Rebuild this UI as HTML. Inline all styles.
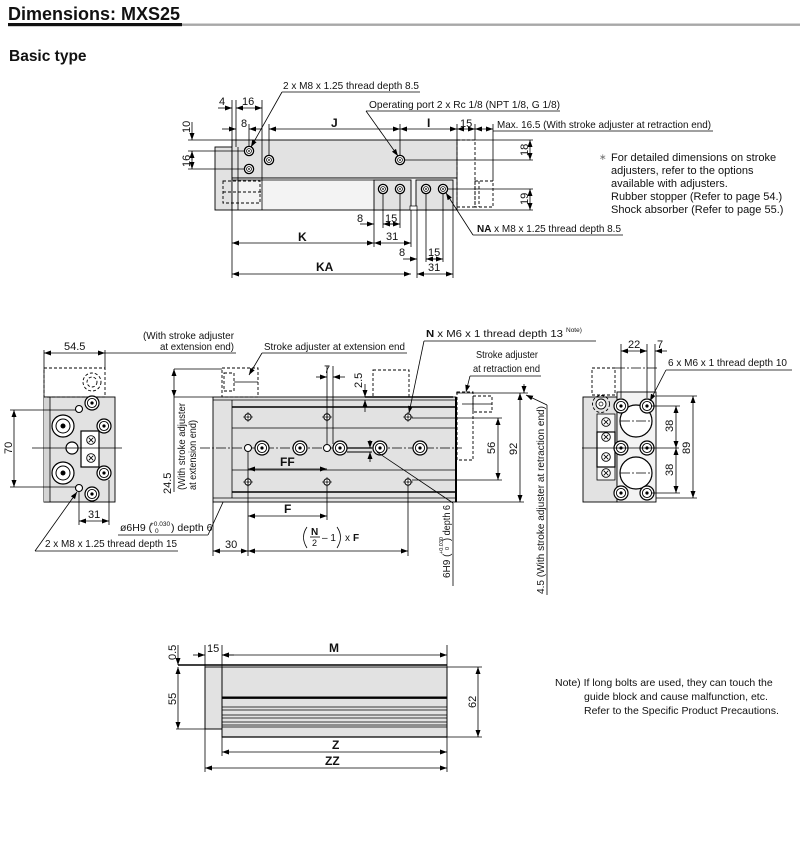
<!DOCTYPE html>
<html><head><meta charset="utf-8"><style>
html,body{margin:0;padding:0;background:#fff;}
svg{display:block;font-family:"Liberation Sans",Arial,sans-serif;}
.t{font-size:10.5px;fill:#111;}
.d{font-size:11px;fill:#111;}
.b{font-weight:bold;}
.ln{stroke:#000;stroke-width:0.8;fill:none;}
.th{stroke:#000;stroke-width:1.2;fill:none;}
.ds{stroke:#000;stroke-width:0.9;fill:none;stroke-dasharray:3,2;}
.cl{stroke:#000;stroke-width:0.7;fill:none;stroke-dasharray:10,2,2,2;}
.g{fill:#e2e2e2;stroke:#000;stroke-width:0.9;}
.g2{fill:#f3f3f3;stroke:#000;stroke-width:0.9;}
</style></head><body>
<svg width="800" height="860" viewBox="0 0 800 860" xmlns="http://www.w3.org/2000/svg">
<defs>
<marker id="a" markerWidth="7" markerHeight="5" refX="7" refY="2.5" orient="auto-start-reverse" markerUnits="userSpaceOnUse"><path d="M0,0 L7,2.5 L0,5 z" fill="#000"/></marker>
<g id="ring"><circle r="4.6" fill="#fff" stroke="#000" stroke-width="1.3"/><circle r="2.4" fill="none" stroke="#000" stroke-width="0.8"/><circle r="0.9" fill="#000"/></g>
<g id="bolt"><circle r="3.2" fill="#fff" stroke="#000" stroke-width="1"/><line x1="-5" y1="0" x2="5" y2="0" stroke="#000" stroke-width="0.6"/><line x1="0" y1="-5" x2="0" y2="5" stroke="#000" stroke-width="0.6"/><circle r="0.8" fill="#000"/></g>
<g id="big"><circle r="7" fill="#fff" stroke="#000" stroke-width="1.2"/><circle r="4.6" fill="none" stroke="#000" stroke-width="0.9"/><circle r="1.6" fill="#000"/></g>
<g id="xc"><circle r="4.3" fill="#fff" stroke="#000" stroke-width="0.9"/><path d="M-2.3,-2.3 L2.3,2.3 M-2.3,2.3 L2.3,-2.3" stroke="#000" stroke-width="0.8"/></g>
</defs>

<!-- Title -->
<text x="8" y="20" style="font-size:18px;font-weight:bold;fill:#111">Dimensions: MXS25</text>
<rect x="8" y="23" width="174" height="3.2" fill="#111"/>
<rect x="182" y="23.5" width="618" height="2.4" fill="#a8a8a8"/>
<text x="9" y="61" style="font-size:15.5px;font-weight:bold;fill:#111">Basic type</text>

<!-- ================= TOP VIEW ================= -->
<rect x="215" y="147" width="17" height="63" class="g"/>
<rect x="232" y="140" width="225" height="38" class="g"/>
<rect x="232" y="178" width="225" height="32" class="g2"/>
<rect x="374" y="180" width="37" height="30" class="g"/>
<rect x="416" y="180" width="37" height="30" class="g"/>
<rect x="410" y="206" width="7" height="4" fill="#fff" stroke="#000" stroke-width="0.7"/>
<line x1="232" y1="180" x2="374" y2="180" class="ln"/>
<line x1="238" y1="147" x2="238" y2="210" class="ln"/>
<line x1="262" y1="140" x2="262" y2="210" class="ln"/>
<rect x="223" y="181" width="37" height="22" class="ds"/>
<line x1="223" y1="192" x2="262" y2="192" class="ds"/>
<rect x="457" y="140" width="18" height="67" class="ds"/>
<rect x="475" y="181" width="18" height="26" class="ds"/>
<line x1="479" y1="181" x2="479" y2="207" class="ds"/>
<use href="#ring" x="249" y="151"/>
<use href="#ring" x="249" y="169"/>
<use href="#ring" x="269" y="160"/>
<use href="#ring" x="400" y="160"/>
<use href="#ring" x="383" y="189"/>
<use href="#ring" x="400" y="189"/>
<use href="#ring" x="426" y="189"/>
<use href="#ring" x="443" y="189"/>
<line x1="405" y1="160" x2="533" y2="160" class="ln"/>
<line x1="448" y1="189" x2="533" y2="189" class="ln"/>
<line x1="457" y1="140" x2="533" y2="140" class="ln"/>
<line x1="457" y1="210" x2="533" y2="210" class="ln"/>
<line x1="188" y1="140" x2="232" y2="140" class="ln"/>
<line x1="188" y1="151" x2="244" y2="151" class="ln"/>
<line x1="188" y1="169" x2="244" y2="169" class="ln"/>
<line x1="192" y1="122" x2="192" y2="140" class="ln" marker-end="url(#a)"/>
<line x1="192" y1="160" x2="192" y2="151" class="ln" marker-end="url(#a)"/>
<line x1="192" y1="151" x2="192" y2="169" class="ln" marker-end="url(#a)"/>
<text class="d" transform="translate(190,133) rotate(-90)">10</text>
<text class="d" transform="translate(190,167) rotate(-90)">16</text>
<line x1="530" y1="140" x2="530" y2="160" class="ln" marker-start="url(#a)" marker-end="url(#a)"/>
<line x1="530" y1="189" x2="530" y2="210" class="ln" marker-start="url(#a)" marker-end="url(#a)"/>
<text class="d" transform="translate(528,156) rotate(-90)">18</text>
<text class="d" transform="translate(528,205) rotate(-90)">19</text>
<line x1="232" y1="100" x2="232" y2="147" class="ln"/>
<line x1="236" y1="100" x2="236" y2="147" class="ln"/>
<line x1="262" y1="100" x2="262" y2="140" class="ln"/>
<line x1="249" y1="124" x2="249" y2="146" class="ln"/>
<line x1="269" y1="124" x2="269" y2="155" class="ln"/>
<line x1="400" y1="124" x2="400" y2="155" class="ln"/>
<line x1="457" y1="124" x2="457" y2="140" class="ln"/>
<line x1="475" y1="124" x2="475" y2="140" class="ln"/>
<line x1="493" y1="124" x2="493" y2="181" class="ln"/>
<line x1="218" y1="108" x2="232" y2="108" class="ln" marker-end="url(#a)"/>
<line x1="236" y1="108" x2="262" y2="108" class="ln" marker-start="url(#a)" marker-end="url(#a)"/>
<text class="d" x="219" y="105">4</text>
<text class="d" x="242" y="105">16</text>
<line x1="222" y1="129" x2="236" y2="129" class="ln" marker-end="url(#a)"/>
<line x1="262" y1="129" x2="249" y2="129" class="ln" marker-end="url(#a)"/>
<text class="d" x="241" y="127">8</text>
<line x1="269" y1="129" x2="400" y2="129" class="ln" marker-start="url(#a)" marker-end="url(#a)"/>
<text class="d b" x="331" y="127" style="font-size:12px">J</text>
<line x1="400" y1="129" x2="457" y2="129" class="ln" marker-start="url(#a)" marker-end="url(#a)"/>
<text class="d b" x="427" y="127" style="font-size:12px">I</text>
<line x1="457" y1="129" x2="475" y2="129" class="ln" marker-start="url(#a)" marker-end="url(#a)"/>
<text class="d" x="460" y="127">15</text>
<line x1="475" y1="129" x2="493" y2="129" class="ln" marker-start="url(#a)" marker-end="url(#a)"/>
<line x1="493" y1="131" x2="713" y2="131" class="ln"/>
<text class="t" x="497" y="128" textLength="214" lengthAdjust="spacingAndGlyphs">Max. 16.5 (With stroke adjuster at retraction end)</text>
<text class="t" x="283" y="89" textLength="136" lengthAdjust="spacingAndGlyphs">2 x M8 x 1.25 thread depth 8.5</text>
<line x1="282" y1="92" x2="420" y2="92" class="ln"/>
<line x1="282" y1="92" x2="251" y2="147" class="ln" marker-end="url(#a)"/>
<text class="t" x="369" y="108" textLength="191" lengthAdjust="spacingAndGlyphs">Operating port 2 x Rc 1/8 (NPT 1/8, G 1/8)</text>
<line x1="366" y1="111" x2="560" y2="111" class="ln"/>
<line x1="366" y1="111" x2="398" y2="156" class="ln" marker-end="url(#a)"/>
<text class="t" x="477" y="232" textLength="144" lengthAdjust="spacingAndGlyphs"><tspan font-weight="bold">NA</tspan> x M8 x 1.25 thread depth 8.5</text>
<line x1="473" y1="235" x2="623" y2="235" class="ln"/>
<line x1="473" y1="235" x2="446" y2="193" class="ln" marker-end="url(#a)"/>
<line x1="232" y1="210" x2="232" y2="278" class="ln"/>
<line x1="374" y1="210" x2="374" y2="247" class="ln"/>
<line x1="383" y1="194" x2="383" y2="228" class="ln"/>
<line x1="400" y1="194" x2="400" y2="228" class="ln"/>
<line x1="411" y1="210" x2="411" y2="247" class="ln"/>
<line x1="417" y1="210" x2="417" y2="278" class="ln"/>
<line x1="426" y1="194" x2="426" y2="262" class="ln"/>
<line x1="443" y1="194" x2="443" y2="262" class="ln"/>
<line x1="453" y1="210" x2="453" y2="278" class="ln"/>
<line x1="360" y1="224" x2="374" y2="224" class="ln" marker-end="url(#a)"/>
<line x1="395" y1="224" x2="383" y2="224" class="ln" marker-end="url(#a)"/>
<line x1="383" y1="224" x2="400" y2="224" class="ln" marker-end="url(#a)"/>
<text class="d" x="357" y="222">8</text>
<text class="d" x="385" y="222">15</text>
<line x1="232" y1="243" x2="374" y2="243" class="ln" marker-start="url(#a)" marker-end="url(#a)"/>
<line x1="374" y1="243" x2="411" y2="243" class="ln" marker-start="url(#a)" marker-end="url(#a)"/>
<text class="d b" x="298" y="241" style="font-size:12px">K</text>
<text class="d" x="386" y="240">31</text>
<line x1="403" y1="259" x2="417" y2="259" class="ln" marker-end="url(#a)"/>
<line x1="438" y1="259" x2="426" y2="259" class="ln" marker-end="url(#a)"/>
<line x1="426" y1="259" x2="443" y2="259" class="ln" marker-end="url(#a)"/>
<text class="d" x="399" y="256">8</text>
<text class="d" x="428" y="256">15</text>
<line x1="232" y1="274" x2="411" y2="274" class="ln" marker-start="url(#a)" marker-end="url(#a)"/>
<line x1="417" y1="274" x2="453" y2="274" class="ln" marker-start="url(#a)" marker-end="url(#a)"/>
<text class="d b" x="316" y="271" style="font-size:12px">KA</text>
<text class="d" x="428" y="271">31</text>
<text x="599" y="160" style="font-size:9px;fill:#777">∗</text>
<text class="t" x="611" y="161" style="font-size:11px">For detailed dimensions on stroke</text>
<text class="t" x="611" y="174" style="font-size:11px">adjusters, refer to the options</text>
<text class="t" x="611" y="187" style="font-size:11px">available with adjusters.</text>
<text class="t" x="611" y="200" style="font-size:11px">Rubber stopper (Refer to page 54.)</text>
<text class="t" x="611" y="213" style="font-size:11px">Shock absorber (Refer to page 55.)</text>

<!-- ================= LEFT END VIEW ================= -->
<rect x="44" y="397" width="71" height="105" class="g"/>
<path d="M44,397 L50,397 L50,502 L44,502" fill="#d4d4d4" stroke="#000" stroke-width="0.8"/>
<rect x="44" y="368" width="61" height="29" class="ds"/>
<circle cx="92" cy="382" r="9" class="ds"/>
<circle cx="92" cy="382" r="5" class="ds"/>
<line x1="44" y1="350" x2="44" y2="397" class="ln"/>
<line x1="105" y1="350" x2="105" y2="368" class="ln"/>
<line x1="44" y1="353" x2="105" y2="353" class="ln" marker-start="url(#a)" marker-end="url(#a)"/>
<line x1="105" y1="353" x2="236" y2="353" class="ln"/>
<text class="d" x="64" y="350">54.5</text>
<text class="t" x="143" y="339" textLength="91" lengthAdjust="spacingAndGlyphs">(With stroke adjuster</text>
<text class="t" x="160" y="350" textLength="74" lengthAdjust="spacingAndGlyphs">at extension end)</text>
<circle cx="63" cy="426" r="11" fill="#fff" stroke="#000" stroke-width="1.2"/>
<circle cx="63" cy="426" r="7" fill="none" stroke="#000" stroke-width="1"/>
<circle cx="63" cy="426" r="2.5" fill="#000"/>
<circle cx="63" cy="473" r="11" fill="#fff" stroke="#000" stroke-width="1.2"/>
<circle cx="63" cy="473" r="7" fill="none" stroke="#000" stroke-width="1"/>
<circle cx="63" cy="473" r="2.5" fill="#000"/>
<circle cx="72" cy="448" r="6" fill="#fff" stroke="#000" stroke-width="1.2"/>
<circle cx="79" cy="409" r="3.5" fill="#fff" stroke="#000" stroke-width="1.1"/>
<circle cx="79" cy="488" r="3.5" fill="#fff" stroke="#000" stroke-width="1.1"/>
<use href="#big" x="92" y="403"/>
<use href="#big" x="104" y="426"/>
<use href="#big" x="104" y="473"/>
<use href="#big" x="92" y="494"/>
<rect x="81" y="431" width="18" height="36" fill="#fff" stroke="#000" stroke-width="1.2"/>
<use href="#xc" x="91" y="440"/>
<use href="#xc" x="91" y="458"/>
<line x1="32" y1="448" x2="122" y2="448" class="ln"/>
<line x1="10" y1="410" x2="76" y2="410" class="ln"/>
<line x1="10" y1="487" x2="76" y2="487" class="ln"/>
<line x1="14" y1="410" x2="14" y2="487" class="ln" marker-start="url(#a)" marker-end="url(#a)"/>
<text class="d" transform="translate(12,454) rotate(-90)">70</text>
<line x1="79" y1="492" x2="79" y2="525" class="ln"/>
<line x1="109" y1="480" x2="109" y2="525" class="ln"/>
<line x1="79" y1="521" x2="109" y2="521" class="ln" marker-start="url(#a)" marker-end="url(#a)"/>
<text class="d" x="88" y="518">31</text>
<text class="t" x="120" y="531">ø6H9 (</text>
<text x="150" y="526" style="font-size:6.5px;fill:#111">+0.030</text>
<text x="155" y="533" style="font-size:6.5px;fill:#111">0</text>
<text class="t" x="171" y="531">) depth 6</text>
<line x1="118" y1="535" x2="208" y2="535" class="ln"/>
<line x1="208" y1="535" x2="246" y2="452" class="ln" marker-end="url(#a)"/>
<text class="t" x="45" y="547" textLength="132" lengthAdjust="spacingAndGlyphs">2 x M8 x 1.25 thread depth 15</text>
<line x1="35" y1="551" x2="178" y2="551" class="ln"/>
<line x1="35" y1="551" x2="77" y2="492" class="ln" marker-end="url(#a)"/>

<!-- ================= SIDE VIEW ================= -->
<rect x="213" y="397" width="243" height="105" class="g"/>
<line x1="232" y1="400" x2="232" y2="498" class="ln"/>
<line x1="213" y1="400" x2="456" y2="400" class="ln"/>
<line x1="232" y1="407" x2="456" y2="407" class="th" style="stroke-width:1.6"/>
<line x1="232" y1="428" x2="456" y2="428" class="ln"/>
<line x1="232" y1="470" x2="456" y2="470" class="ln"/>
<line x1="232" y1="492" x2="456" y2="492" class="th" style="stroke-width:1.6"/>
<line x1="213" y1="498" x2="456" y2="498" class="ln"/>
<line x1="456" y1="397" x2="456" y2="502" stroke="#000" stroke-width="2"/>
<line x1="365" y1="397" x2="453" y2="397" stroke="#000" stroke-width="1.6"/>
<rect x="222" y="368" width="36" height="29" class="ds"/>
<rect x="224" y="373" width="10" height="18" class="ds"/>
<line x1="234" y1="382" x2="258" y2="382" class="ln"/>
<rect x="373" y="370" width="36" height="27" class="ds"/>
<rect x="457" y="392" width="16" height="68" class="ds"/>
<rect x="473" y="396" width="19" height="16" class="ds"/>
<line x1="462" y1="404" x2="492" y2="404" class="ln"/>
<line x1="200" y1="448" x2="462" y2="448" class="cl"/>
<use href="#bolt" x="248" y="417"/>
<use href="#bolt" x="327" y="417"/>
<use href="#bolt" x="408" y="417"/>
<use href="#bolt" x="248" y="482"/>
<use href="#bolt" x="327" y="482"/>
<use href="#bolt" x="408" y="482"/>
<circle cx="248" cy="448" r="3.5" fill="#fff" stroke="#000" stroke-width="1"/>
<circle cx="327" cy="448" r="3.5" fill="#fff" stroke="#000" stroke-width="1"/>
<use href="#big" x="262" y="448"/>
<use href="#big" x="300" y="448"/>
<use href="#big" x="340" y="448"/>
<use href="#big" x="380" y="448"/>
<use href="#big" x="420" y="448"/>
<line x1="347" y1="448" x2="372" y2="448" stroke="#000" stroke-width="1.2"/>
<line x1="347" y1="452" x2="372" y2="452" stroke="#000" stroke-width="1"/>
<line x1="327" y1="366" x2="327" y2="444" class="ln"/>
<line x1="333" y1="366" x2="333" y2="444" class="ln"/>
<line x1="316" y1="377" x2="327" y2="377" class="ln" marker-end="url(#a)"/>
<line x1="345" y1="377" x2="333" y2="377" class="ln" marker-end="url(#a)"/>
<text class="d" x="324" y="373">7</text>
<line x1="365" y1="384" x2="365" y2="397" class="ln" marker-end="url(#a)"/>
<line x1="365" y1="412" x2="365" y2="400" class="ln" marker-end="url(#a)"/>
<text class="d" transform="translate(362,388) rotate(-90)">2.5</text>
<line x1="370" y1="440" x2="370" y2="448" class="ln" marker-end="url(#a)"/>
<line x1="370" y1="462" x2="370" y2="452" class="ln" marker-end="url(#a)"/>
<line x1="248" y1="452" x2="248" y2="556" class="ln"/>
<line x1="213" y1="502" x2="213" y2="556" class="ln"/>
<line x1="327" y1="486" x2="327" y2="520" class="ln"/>
<line x1="408" y1="486" x2="408" y2="556" class="ln"/>
<line x1="248" y1="469" x2="327" y2="469" class="ln" marker-start="url(#a)" marker-end="url(#a)"/>
<text class="d b" x="280" y="466" style="font-size:12px">FF</text>
<line x1="248" y1="516" x2="327" y2="516" class="ln" marker-start="url(#a)" marker-end="url(#a)"/>
<text class="d b" x="284" y="513" style="font-size:12px">F</text>
<line x1="213" y1="551" x2="248" y2="551" class="ln" marker-start="url(#a)" marker-end="url(#a)"/>
<text class="d" x="225" y="548">30</text>
<line x1="248" y1="551" x2="408" y2="551" class="ln" marker-start="url(#a)" marker-end="url(#a)"/>
<path d="M307,527 Q300,537 307,548" class="ln" stroke-width="1.2"/>
<text x="311" y="535" style="font-size:10px;font-weight:bold;fill:#111">N</text>
<line x1="310" y1="537" x2="320" y2="537" stroke="#000" stroke-width="0.8"/>
<text x="312" y="546" style="font-size:9px;fill:#111">2</text>
<text x="322" y="541" style="font-size:10px;fill:#111">– 1</text>
<path d="M337,527 Q344,537 337,548" class="ln" stroke-width="1.2"/>
<text x="345" y="541" style="font-size:10px;fill:#111">x </text>
<text x="353" y="541" style="font-size:10px;font-weight:bold;fill:#111">F</text>
<line x1="412" y1="418" x2="502" y2="418" class="ln"/>
<line x1="412" y1="480" x2="502" y2="480" class="ln"/>
<line x1="498" y1="418" x2="498" y2="480" class="ln" marker-start="url(#a)" marker-end="url(#a)"/>
<text class="d" transform="translate(495,454) rotate(-90)">56</text>
<line x1="456" y1="393" x2="528" y2="393" class="ln"/>
<line x1="456" y1="502" x2="524" y2="502" class="ln"/>
<line x1="520" y1="393" x2="520" y2="502" class="ln" marker-start="url(#a)" marker-end="url(#a)"/>
<text class="d" transform="translate(517,455) rotate(-90)">92</text>
<line x1="524" y1="384" x2="524" y2="393" class="ln" marker-end="url(#a)"/>
<line x1="547" y1="405" x2="526" y2="395" class="ln" marker-end="url(#a)"/>
<line x1="547" y1="405" x2="547" y2="595" class="ln"/>
<text class="t" transform="translate(544,594) rotate(-90)" textLength="188" lengthAdjust="spacingAndGlyphs">4.5 (With stroke adjuster at retraction end)</text>
<line x1="377" y1="452" x2="453" y2="503" class="ln"/>
<line x1="453" y1="503" x2="453" y2="586" class="ln"/>
<text transform="translate(450,578) rotate(-90)" style="font-size:10px;fill:#111">6H9 (</text>
<text transform="translate(443,554) rotate(-90)" style="font-size:5.5px;fill:#111">+0.030</text>
<text transform="translate(449,550) rotate(-90)" style="font-size:5.5px;fill:#111">0</text>
<text transform="translate(450,541) rotate(-90)" style="font-size:10px;fill:#111" textLength="36" lengthAdjust="spacingAndGlyphs">) depth 6</text>
<line x1="174" y1="369" x2="222" y2="369" class="ln"/>
<line x1="174" y1="397" x2="213" y2="397" class="ln"/>
<line x1="174" y1="369" x2="174" y2="397" class="ln" marker-start="url(#a)" marker-end="url(#a)"/>
<line x1="174" y1="397" x2="174" y2="492" class="ln"/>
<text class="d" transform="translate(171,494) rotate(-90)">24.5</text>
<text class="t" transform="translate(185,490) rotate(-90)" textLength="87" lengthAdjust="spacingAndGlyphs">(With stroke adjuster</text>
<text class="t" transform="translate(196,490) rotate(-90)" textLength="70" lengthAdjust="spacingAndGlyphs">at extension end)</text>
<text class="t" x="264" y="350" textLength="141" lengthAdjust="spacingAndGlyphs">Stroke adjuster at extension end</text>
<line x1="262" y1="353" x2="407" y2="353" class="ln"/>
<line x1="262" y1="353" x2="249" y2="375" class="ln" marker-end="url(#a)"/>
<text class="t" x="426" y="337" textLength="137" lengthAdjust="spacingAndGlyphs"><tspan font-weight="bold">N</tspan> x M6 x 1 thread depth 13</text>
<text x="566" y="332" style="font-size:6.5px;fill:#111">Note)</text>
<line x1="424" y1="341" x2="596" y2="341" class="ln"/>
<line x1="424" y1="341" x2="409" y2="413" class="ln" marker-end="url(#a)"/>
<text class="t" x="476" y="358" textLength="62" lengthAdjust="spacingAndGlyphs">Stroke adjuster</text>
<text class="t" x="473" y="372" textLength="67" lengthAdjust="spacingAndGlyphs">at retraction end</text>
<line x1="470" y1="376" x2="541" y2="376" class="ln"/>
<line x1="470" y1="376" x2="466" y2="392" class="ln" marker-end="url(#a)"/>

<!-- ================= RIGHT END VIEW ================= -->
<rect x="583" y="397" width="34" height="105" class="g"/>
<rect x="617" y="392" width="39" height="110" class="g2"/>
<rect x="592" y="368" width="23" height="27" class="ds"/>
<line x1="615" y1="368" x2="657" y2="368" class="cl"/>
<circle cx="601" cy="404" r="8.5" class="ds"/>
<circle cx="601" cy="404" r="5" fill="#fff" stroke="#000" stroke-width="0.9"/>
<circle cx="601" cy="404" r="2" fill="none" stroke="#000" stroke-width="0.7"/>
<rect x="597" y="414" width="18" height="66" fill="#f6f6f6" stroke="#000" stroke-width="0.8"/>
<rect x="597" y="432" width="18" height="35" fill="#fff" stroke="#000" stroke-width="1.2"/>
<use href="#xc" x="606" y="422"/>
<use href="#xc" x="606" y="437"/>
<use href="#xc" x="606" y="457"/>
<use href="#xc" x="606" y="473"/>
<circle cx="636" cy="421" r="16" fill="#fff" stroke="#000" stroke-width="1.2"/>
<circle cx="636" cy="473" r="16" fill="#fff" stroke="#000" stroke-width="1.2"/>
<line x1="620" y1="421" x2="652" y2="421" class="cl"/>
<line x1="620" y1="473" x2="652" y2="473" class="cl"/>
<use href="#big" x="621" y="406"/>
<use href="#big" x="647" y="406"/>
<use href="#big" x="621" y="448"/>
<use href="#big" x="647" y="448"/>
<use href="#big" x="621" y="493"/>
<use href="#big" x="647" y="493"/>
<line x1="582" y1="448" x2="679" y2="448" class="ln"/>
<line x1="621" y1="344" x2="621" y2="398" class="ln"/>
<line x1="647" y1="344" x2="647" y2="398" class="ln"/>
<line x1="655" y1="344" x2="655" y2="392" class="ln"/>
<line x1="621" y1="351" x2="647" y2="351" class="ln" marker-start="url(#a)" marker-end="url(#a)"/>
<line x1="667" y1="351" x2="655" y2="351" class="ln" marker-end="url(#a)"/>
<text class="d" x="628" y="348">22</text>
<text class="d" x="657" y="348">7</text>
<text class="t" x="668" y="366" textLength="119" lengthAdjust="spacingAndGlyphs">6 x M6 x 1 thread depth 10</text>
<line x1="666" y1="370" x2="792" y2="370" class="ln"/>
<line x1="666" y1="370" x2="650" y2="401" class="ln" marker-end="url(#a)"/>
<line x1="651" y1="406" x2="680" y2="406" class="ln"/>
<line x1="651" y1="493" x2="680" y2="493" class="ln"/>
<line x1="656" y1="396" x2="697" y2="396" class="ln"/>
<line x1="656" y1="498" x2="697" y2="498" class="ln"/>
<line x1="676" y1="406" x2="676" y2="448" class="ln" marker-start="url(#a)" marker-end="url(#a)"/>
<line x1="676" y1="448" x2="676" y2="493" class="ln" marker-start="url(#a)" marker-end="url(#a)"/>
<line x1="693" y1="396" x2="693" y2="498" class="ln" marker-start="url(#a)" marker-end="url(#a)"/>
<text class="d" transform="translate(673,432) rotate(-90)">38</text>
<text class="d" transform="translate(673,476) rotate(-90)">38</text>
<text class="d" transform="translate(690,454) rotate(-90)">89</text>

<!-- ================= BOTTOM VIEW ================= -->
<rect x="205" y="667" width="242" height="30" class="g"/>
<rect x="205" y="667" width="17" height="62" class="g"/>
<line x1="178" y1="665" x2="447" y2="665" stroke="#000" stroke-width="1.6"/>
<rect x="222" y="697" width="225" height="40" class="g"/>
<line x1="222" y1="698" x2="447" y2="698" stroke="#000" stroke-width="1.8"/>
<line x1="222" y1="707" x2="447" y2="707" class="ln"/>
<line x1="222" y1="710" x2="447" y2="710" class="ln"/>
<line x1="222" y1="715" x2="447" y2="715" class="ln"/>
<line x1="222" y1="718" x2="447" y2="718" class="ln"/>
<line x1="222" y1="722" x2="447" y2="722" class="ln"/>
<line x1="222" y1="725" x2="447" y2="725" class="ln"/>
<line x1="222" y1="727" x2="447" y2="727" class="ln"/>
<line x1="222" y1="737" x2="447" y2="737" stroke="#000" stroke-width="1.2"/>
<line x1="222" y1="700" x2="222" y2="729" class="ln"/>
<line x1="205" y1="645" x2="205" y2="772" class="ln"/>
<line x1="222" y1="645" x2="222" y2="756" class="ln"/>
<line x1="447" y1="645" x2="447" y2="772" class="ln"/>
<line x1="193" y1="655" x2="205" y2="655" class="ln" marker-end="url(#a)"/>
<line x1="234" y1="655" x2="222" y2="655" class="ln" marker-end="url(#a)"/>
<text class="d" x="207" y="652">15</text>
<line x1="222" y1="655" x2="447" y2="655" class="ln" marker-start="url(#a)" marker-end="url(#a)"/>
<text class="d b" x="329" y="652" style="font-size:12px">M</text>
<line x1="178" y1="645" x2="178" y2="665" class="ln" marker-end="url(#a)"/>
<line x1="178" y1="667" x2="178" y2="729" class="ln" marker-start="url(#a)" marker-end="url(#a)"/>
<line x1="176" y1="729" x2="222" y2="729" class="ln"/>
<text class="d" transform="translate(176,660) rotate(-90)">0.5</text>
<text class="d" transform="translate(176,705) rotate(-90)">55</text>
<line x1="447" y1="667" x2="482" y2="667" class="ln"/>
<line x1="447" y1="737" x2="482" y2="737" class="ln"/>
<line x1="478" y1="667" x2="478" y2="737" class="ln" marker-start="url(#a)" marker-end="url(#a)"/>
<text class="d" transform="translate(476,708) rotate(-90)">62</text>
<line x1="222" y1="752" x2="447" y2="752" class="ln" marker-start="url(#a)" marker-end="url(#a)"/>
<text class="d b" x="332" y="749" style="font-size:12px">Z</text>
<line x1="205" y1="768" x2="447" y2="768" class="ln" marker-start="url(#a)" marker-end="url(#a)"/>
<text class="d b" x="325" y="765" style="font-size:12px">ZZ</text>

<text class="t" x="555" y="686" style="font-size:10.5px">Note) If long bolts are used, they can touch the</text>
<text class="t" x="584" y="700" style="font-size:10.5px">guide block and cause malfunction, etc.</text>
<text class="t" x="584" y="714" style="font-size:10.5px">Refer to the Specific Product Precautions.</text>
</svg>
</body></html>
